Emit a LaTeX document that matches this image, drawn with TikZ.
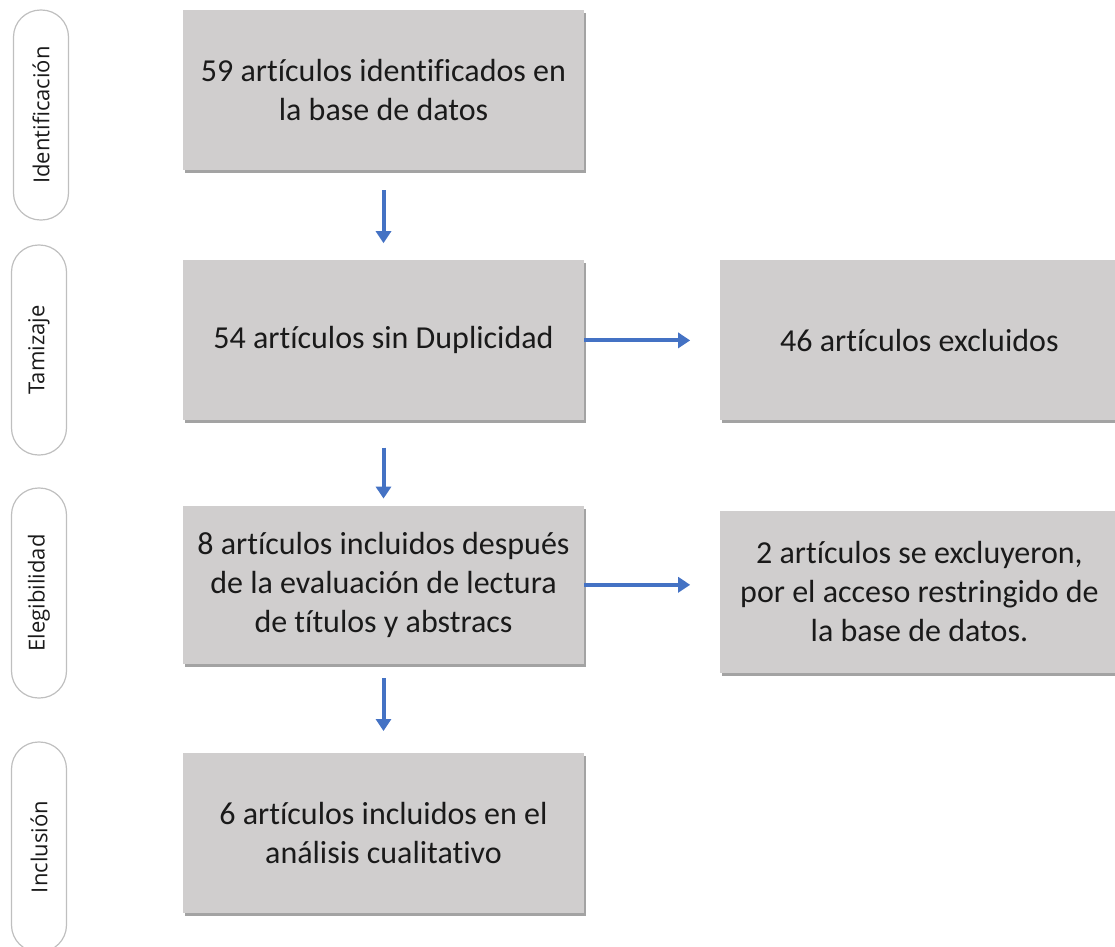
\documentclass[tikz,border=0pt]{standalone}
\usepackage{fontspec}
\setmainfont{Carlito}[Ligatures=NoCommon]
\newfontfamily\fasefont{Open Sans}
\usepackage{xcolor}
\usetikzlibrary{calc, positioning, arrows.meta, shadows}
\definecolor{cajagris}{HTML}{D0CECE}
\definecolor{flechaazul}{HTML}{4472C4}
\definecolor{bordegris}{HTML}{BFBFBF}
\definecolor{textonegro}{HTML}{1A1A1A}

\begin{document}
\begin{tikzpicture}[-, x=1pt, y=1pt, node distance = 136pt,
  paso/.style={fill=cajagris, text=textonegro, minimum width=401pt, minimum height=160pt,
    align=center, inner sep=0pt, font=\fontsize{32}{39}\selectfont,
    drop shadow={shadow xshift=1.5pt, shadow yshift=-3pt, fill=black!60, opacity=0.6}},
  fase/.style={draw=bordegris, line width=1.2pt, rounded corners=27pt, minimum width=210pt,
    minimum height=55pt, rotate=90, text=textonegro, font=\fasefont\fontsize{22}{26}\selectfont},
  flecha/.style={flechaazul, line width=4pt, -{Triangle[length=12pt,width=15pt]}}]
\useasboundingbox (0,0) rectangle (1115,-946);
\node[paso] (b1) at (383.5,-90) {59 artículos identificados en\\la base de datos};
\node[paso, below=90pt of b1] (b2) {54 artículos sin Duplicidad};
\node[paso, below=85pt of b2, minimum height=158pt] (b3) {8 artículos incluidos después\\de la evaluación de lectura\\de títulos y abstracs};
\node[paso, below=89pt of b3] (b4) {6 artículos incluidos en el\\análisis cualitativo};
\node[paso, right=of b2, minimum width=398pt] (r1) {46 artículos excluidos};
\node[paso, right=of b3, yshift=-7pt, minimum width=398pt, minimum height=162pt] (r2) {2 artículos se excluyeron,\\por el acceso restringido de\\la base de datos.};
% fases
\node[fase] (p1) at (41,-115) {Identificación};
\node[fase] (p2) at (39,-350) {Tamizaje};
\node[fase] (p3) at (39,-593) {Elegibilidad};
\node[fase] (p4) at (39,-847) {Inclusión};
% flechas
\draw[flecha, shorten <=20pt, shorten >=17pt] (b1) -- (b2);
\draw[flecha, shorten <=27pt, shorten >=7pt] (b2) -- (b3);
\draw[flecha, shorten <=14pt, shorten >=22pt] (b3) -- (b4);
\draw[flecha, shorten >=30pt] (b2) -- (r1);
\draw[flecha, shorten >=30pt] (b3.east) -- (b3.east -| r2.west);
\end{tikzpicture}
\end{document}
